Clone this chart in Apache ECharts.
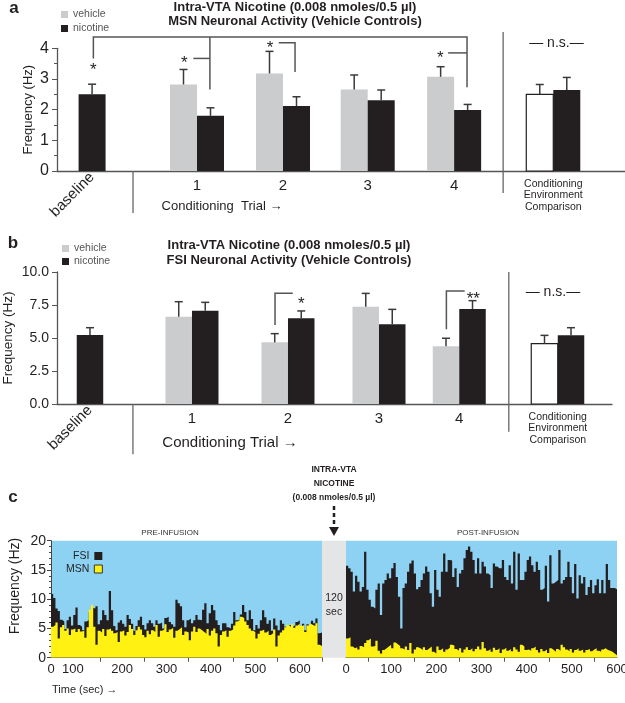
<!DOCTYPE html>
<html><head><meta charset="utf-8">
<script src="https://cdn.jsdelivr.net/npm/echarts@6.0.0/dist/echarts.min.js"></script>
<style>html,body{margin:0;padding:0;background:#fff;}#chart{width:625px;height:703px;}</style>
</head><body><div id="chart"></div>
<script>
// ---------- DATA ----------
const groupLabels = ['baseline', '1', '2', '3', '4', 'Conditioning Environment Comparison'];
// Panel a: MSN neuronal activity (Hz), mean and SEM
const msnVehicle    = [null, 2.82, 3.18, 2.66, 3.07, 2.50];
const msnVehicleSem = [null, 0.49, 0.72, 0.47, 0.33, 0.32];
const msnNicotine    = [2.50, 1.80, 2.12, 2.31, 1.99, 2.64];
const msnNicotineSem = [0.33, 0.26, 0.30, 0.33, 0.18, 0.41];
// Panel b: FSI neuronal activity (Hz), mean and SEM
const fsiVehicle    = [null, 6.61, 4.67, 7.37, 4.37, 4.57];
const fsiVehicleSem = [null, 1.14, 0.66, 1.01, 0.61, 0.63];
const fsiNicotine    = [5.23, 7.07, 6.49, 6.04, 7.20, 5.20];
const fsiNicotineSem = [0.55, 0.63, 0.56, 1.13, 0.63, 0.58];
const yTicksA = [0, 1, 2, 3, 4];
const yTicksB = [0, 2.5, 5, 7.5, 10];

// Panel c: 5-s bin firing rate histograms (Hz)
const binSec = 5;
const preStartSec = 40;
const postStartSec = 0;
const preFSI = [
 10.9,10.2,8.4,8.0,6.5,6.2,4.9,6.4,7.0,5.5,
 7.3,8.6,5.6,5.3,4.7,6.2,6.4,7.8,8.5,8.4,
 8.8,5.7,6.4,8.1,7.3,6.4,11.4,8.1,5.4,4.7,
 6.0,6.4,5.8,5.3,7.3,6.6,5.8,4.6,5.4,6.4,
 7.0,5.6,4.8,5.9,6.4,5.9,5.3,6.4,5.8,6.0,
 5.0,6.8,7.0,6.1,5.7,5.3,9.9,9.3,8.8,6.4,
 5.2,6.4,6.7,5.9,6.4,7.3,6.5,6.4,8.2,9.3,
 5.9,7.6,9.0,8.1,6.4,5.6,4.7,5.9,5.9,5.2,
 5.0,5.8,7.8,6.4,6.4,7.4,9.0,7.8,6.4,8.1,
 6.6,4.7,5.6,5.0,6.4,8.1,6.9,5.8,6.4,4.6,
 6.7,5.5,4.7,6.4,5.8,5.3,4.7,5.6,5.3,5.6,
 6.1,6.4,5.1,5.8,4.7,5.7,5.3,6.3,5.9,6.7,
 4.2,4.3];
const preMSN = [
 5.3,5.6,6.0,3.3,5.2,5.6,4.6,5.0,3.9,4.8,
 5.0,4.4,4.9,4.5,4.6,3.4,5.2,8.2,9.0,5.3,
 2.2,4.6,4.3,4.9,3.7,4.8,5.0,4.6,4.2,4.4,
 2.7,4.5,4.7,3.8,4.4,5.6,4.9,3.9,4.7,5.3,
 4.8,3.9,3.5,4.6,4.0,4.7,4.4,5.6,3.6,4.6,
 4.8,5.7,4.4,4.8,5.1,3.4,4.6,4.9,5.2,3.9,
 4.5,4.3,3.0,4.5,5.3,4.4,5.0,4.7,4.4,4.1,
 4.9,3.8,4.6,5.0,4.2,1.9,3.9,4.5,4.7,3.6,
 4.6,4.8,5.5,6.2,6.4,7.0,6.8,6.2,5.6,5.0,
 4.6,4.4,3.3,4.1,4.6,4.8,4.3,4.6,3.9,4.2,
 4.8,1.9,3.8,4.3,4.7,5.2,5.6,5.3,5.7,5.1,
 5.5,5.8,5.4,5.6,4.4,5.5,5.8,5.6,5.4,5.9,
 2.2,2.0];
const postFSI = [
 15.7,15.3,14.7,11.3,14.0,13.0,11.3,12.1,18.1,11.6,
 9.9,8.7,8.4,11.6,12.7,7.3,12.7,13.3,14.4,13.6,
 15.3,16.2,13.8,10.4,5.0,11.9,12.7,14.7,16.1,16.6,
 14.4,11.7,12.1,13.3,14.4,15.6,14.7,11.0,8.7,15.0,
 11.6,10.4,14.7,17.8,14.7,16.7,16.6,13.8,15.3,12.1,
 14.4,15.0,17.0,18.4,19.0,18.1,16.7,14.4,17.0,14.4,
 16.4,15.6,14.4,14.1,11.9,16.1,15.6,15.3,15.3,16.7,
 13.8,13.3,15.8,12.7,18.1,11.6,17.8,13.3,13.3,14.7,
 16.7,17.3,15.8,14.7,16.4,15.0,11.6,11.9,15.7,9.6,
 17.5,12.7,13.0,13.3,18.4,12.7,13.3,13.8,16.4,13.8,
 11.0,16.0,10.1,14.1,12.7,13.8,10.7,12.1,13.3,11.0,
 12.4,13.4,11.0,13.3,11.0,16.0,13.3,11.9,11.9,11.7];
const postMSN = [
 3.3,3.5,1.9,1.6,1.8,1.4,2.0,1.8,2.5,3.0,
 3.3,1.9,2.0,2.9,1.2,0.7,1.3,1.6,1.9,2.2,
 1.6,2.6,2.3,2.0,1.6,1.4,1.9,1.3,2.5,0.7,
 1.4,1.8,1.6,1.3,1.8,1.3,1.6,1.9,1.0,0.7,
 1.9,1.3,1.6,1.0,1.4,1.7,2.2,2.1,1.5,1.2,
 1.6,0.9,1.4,1.8,1.3,1.6,1.1,1.5,1.9,1.4,
 2.7,1.6,1.2,1.5,1.0,1.7,1.3,1.6,0.8,1.4,
 1.7,1.2,1.5,1.1,1.8,1.4,1.0,2.2,1.9,1.3,
 1.4,1.2,1.6,1.9,1.3,0.9,1.5,1.1,1.4,0.8,
 1.6,1.3,1.0,1.5,1.2,2.2,1.8,1.4,1.1,1.5,
 0.9,1.3,1.6,1.2,1.4,0.9,1.3,1.5,1.1,1.4,
 1.6,1.2,1.0,1.4,1.6,1.3,1.2,1.0,0.7,0.4];
const preTickLabelValues = [40, 89, 200, 300, 400, 500, 600];
const preTickLabels = ['0', '100', '200', '300', '400', '500', '600'];
const preTickMarks = [150, 250, 350, 450, 550, 650];
const postTickLabelValues = [0, 100, 200, 300, 400, 500, 600];
const postTickMarks = [50, 150, 250, 350, 450, 550];
const yTicksC = [0, 5, 10, 15, 20];

// ---------- LAYOUT / STYLE ----------
const FONT = '"Liberation Sans Narrow","Liberation Sans",Arial,sans-serif';
const INK = '#231F20', AX = '#555', VEH = '#CBCCCE', SKY = '#8DD2F2', YEL = '#FFF212', GAPC = '#E4E5E6';
const layoutA = { pos: [-0.22, 1, 2, 2.985, 3.99, 5.143], min: -0.628, max: 5.977, barPx: 27, hollow: 5 };
const layoutB = { pos: [-0.0625, 1, 2, 2.948, 3.784, 4.81], min: -0.406, max: 5.375, barPx: 26.5, hollow: 5 };
// significance annotations (x in group units, y in Hz)
const bracketsA = [
  [[-0.205, 3.67], [-0.205, 4.37], [4.14, 4.37], [4.14, 2.73]],
  [[1.15, 4.37], [1.15, 2.66]],
  [[0.957, 3.67], [1.15, 3.67]],
  [[1.95, 4.18], [2.14, 4.18], [2.14, 3.23]],
  [[3.92, 3.85], [4.14, 3.85]]
];
const marksA = [['*', -0.205, 3.42], ['*', 0.853, 3.64], ['*', 1.85, 4.13], ['*', 3.83, 3.81], ['— n.s.—', 5.18, 4.16]];
const separatorsA = [[[0.256, 0], [0.256, -1.37]], [[4.56, 4.53], [4.56, -0.72]]];
const bracketsB = [
  [[1.865, 5.98], [1.865, 8.39], [2.05, 8.39]],
  [[3.65, 5.66], [3.65, 8.56], [3.84, 8.56]]
];
const marksB = [['*', 2.14, 7.83], ['**', 3.93, 8.26], ['— n.s.—', 4.76, 8.5]];
const separatorsB = [[[0.385, 0], [0.385, -3.8]], [[4.30, 10.0], [4.30, -2.1]]];

// ---------- BUILDERS ----------
function barSeries(name, xi, yi, layout, vals, other, side, color) {
  const data = [];
  vals.forEach((v, i) => { if (v != null) data.push([layout.pos[i], v, i]); });
  return {
    type: 'custom', name, xAxisIndex: xi, yAxisIndex: yi, silent: true, z: 3,
    itemStyle: { color }, data, encode: { x: 0, y: 1 },
    renderItem(params, api) {
      const p = api.value(0), v = api.value(1), i = api.value(2);
      const b = api.coord([p, 0]), t = api.coord([p, v]);
      const w = layout.barPx;
      const single = other[i] == null;
      const x0 = single ? b[0] - w / 2 : (side < 0 ? b[0] - w : b[0]);
      const hollow = side < 0 && i === layout.hollow;
      return { type: 'rect', shape: { x: x0, y: t[1], width: w, height: b[1] - t[1] },
        style: { fill: hollow ? '#fff' : color, stroke: hollow ? INK : null, lineWidth: hollow ? 1.2 : 0 } };
    }
  };
}
function errSeries(xi, yi, layout, vals, sems, other, side) {
  const data = [];
  vals.forEach((v, i) => { if (v != null) data.push([layout.pos[i], v, sems[i], i]); });
  return {
    type: 'custom', xAxisIndex: xi, yAxisIndex: yi, silent: true, z: 4, data, encode: { x: 0, y: 1 },
    renderItem(params, api) {
      const p = api.value(0), v = api.value(1), s = api.value(2), i = api.value(3);
      const t = api.coord([p, v]), e = api.coord([p, v + s]);
      const w = layout.barPx;
      const single = other[i] == null;
      const cx = single ? t[0] : (side < 0 ? t[0] - w / 2 : t[0] + w / 2);
      const st = { stroke: '#3a3a3a', lineWidth: 1.5 };
      return { type: 'group', children: [
        { type: 'line', shape: { x1: cx, y1: t[1], x2: cx, y2: e[1] }, style: st },
        { type: 'line', shape: { x1: cx - 4, y1: e[1], x2: cx + 4, y2: e[1] }, style: st }
      ] };
    }
  };
}
function lineSeries(xi, yi, polys, color, width) {
  return {
    type: 'custom', xAxisIndex: xi, yAxisIndex: yi, silent: true, clip: false, z: 5,
    data: polys.map((pl, k) => [pl[0][0], pl[0][1], k]), encode: { x: 0, y: 1 },
    renderItem(params, api) {
      const pts = polys[api.value(2)].map(pt => api.coord(pt));
      return { type: 'polyline', shape: { points: pts }, style: { stroke: color, lineWidth: width, fill: null } };
    }
  };
}
function markSeries(xi, yi, marks) {
  return {
    type: 'custom', xAxisIndex: xi, yAxisIndex: yi, silent: true, clip: false, z: 6,
    data: marks.map((m, k) => [m[1], m[2], k]), encode: { x: 0, y: 1 },
    renderItem(params, api) {
      const m = marks[api.value(2)];
      const c = api.coord([m[1], m[2]]);
      const star = m[0].indexOf('*') === 0;
      return { type: 'text', x: c[0], y: c[1] + (star ? 4 : 0),
        style: { text: m[0], fill: INK, fontSize: star ? 17 : 14, fontFamily: FONT,
          align: 'center', verticalAlign: 'middle', textAlign: 'center', textVerticalAlign: 'middle' } };
    }
  };
}
function stepData(start, vals) {
  const d = vals.map((v, i) => [start + i * binSec, v]);
  d.push([start + vals.length * binSec, vals[vals.length - 1]]);
  return d;
}
function histSeries(name, xi, yi, start, vals, color, z) {
  return { type: 'line', name, xAxisIndex: xi, yAxisIndex: yi, data: stepData(start, vals), step: 'end',
    symbol: 'none', showSymbol: false, silent: true, z, color, itemStyle: { color },
    lineStyle: { width: 0, color }, areaStyle: { color, opacity: 1 } };
}
function groupFormatter(layout) {
  return v => {
    const i = layout.pos.findIndex(p => Math.abs(p - v) < 1e-6);
    if (i === 5) return groupLabels[5].split(' ').map(s => '{s|' + s + '}').join('\n');
    return i >= 0 ? groupLabels[i] : '';
  };
}
const txt = (text, x, y, size, opts = {}) => ({
  type: 'text', x, y, rotation: opts.rotation || 0, silent: true,
  style: { text, fill: opts.fill || INK, fontSize: size, fontFamily: FONT, fontWeight: opts.bold ? 'bold' : 'normal',
    align: opts.align || 'center', verticalAlign: 'middle', textAlign: opts.align || 'center', textVerticalAlign: 'middle' }
});

const labelStyle = (size) => ({ color: INK, fontSize: size, fontFamily: FONT });
const rich = { s: { fontSize: 10.5, lineHeight: 11.5, fontFamily: FONT, color: INK } };
const noZero = { onZero: false };

const option = {
  animation: false,
  backgroundColor: '#fff',
  textStyle: { fontFamily: FONT },
  grid: [
    { left: 57, top: 48.3, width: 568, height: 122.7, outerBoundsMode: 'none' },
    { left: 57, top: 272, width: 555, height: 132, outerBoundsMode: 'none' },
    { left: 51, top: 540.7, width: 271, height: 117, show: true, backgroundColor: SKY, borderWidth: 0, outerBoundsMode: 'none' },
    { left: 322, top: 540.7, width: 24, height: 117, show: true, backgroundColor: GAPC, borderWidth: 0, outerBoundsMode: 'none' },
    { left: 346, top: 540.7, width: 271, height: 117, show: true, backgroundColor: SKY, borderWidth: 0, outerBoundsMode: 'none' }
  ],
  xAxis: [
    { gridIndex: 0, type: 'value', position: 'bottom', min: layoutA.min, max: layoutA.max, splitLine: { show: false },
      axisLine: { show: true, ...noZero, lineStyle: { color: AX, width: 1.3 } }, axisTick: { show: false },
      axisLabel: { customValues: layoutA.pos.slice(1), formatter: groupFormatter(layoutA), margin: 7, ...labelStyle(15), rich } },
    { gridIndex: 0, type: 'value', position: 'bottom', min: layoutA.min, max: layoutA.max, splitLine: { show: false },
      axisLine: { show: false, ...noZero }, axisTick: { show: false },
      axisLabel: { customValues: [layoutA.pos[0]], formatter: groupFormatter(layoutA), rotate: 45, margin: 4, ...labelStyle(15) } },
    { gridIndex: 1, type: 'value', position: 'bottom', min: layoutB.min, max: layoutB.max, splitLine: { show: false },
      axisLine: { show: true, ...noZero, lineStyle: { color: AX, width: 1.3 } }, axisTick: { show: false },
      axisLabel: { customValues: layoutB.pos.slice(1), formatter: groupFormatter(layoutB), margin: 7, ...labelStyle(15), rich } },
    { gridIndex: 1, type: 'value', position: 'bottom', min: layoutB.min, max: layoutB.max, splitLine: { show: false },
      axisLine: { show: false, ...noZero }, axisTick: { show: false },
      axisLabel: { customValues: [layoutB.pos[0]], formatter: groupFormatter(layoutB), rotate: 45, margin: 4, ...labelStyle(15) } },
    { gridIndex: 2, type: 'value', position: 'bottom', min: preStartSec, max: 650, splitLine: { show: false },
      axisLine: { show: true, ...noZero, lineStyle: { color: '#666', width: 1 } },
      axisTick: { show: true, customValues: preTickMarks, length: 4, lineStyle: { color: '#555' } },
      axisLabel: { customValues: preTickLabelValues, formatter: v => preTickLabels[preTickLabelValues.indexOf(v)], margin: 5, ...labelStyle(13) } },
    { gridIndex: 3, type: 'value', min: 0, max: 1, show: false },
    { gridIndex: 4, type: 'value', position: 'bottom', min: postStartSec, max: 600, splitLine: { show: false },
      axisLine: { show: true, ...noZero, lineStyle: { color: '#666', width: 1 } },
      axisTick: { show: true, customValues: postTickMarks, length: 4, lineStyle: { color: '#555' } },
      axisLabel: { customValues: postTickLabelValues, margin: 5, ...labelStyle(13) } }
  ],
  yAxis: [
    { gridIndex: 0, type: 'value', min: 0, max: 4, interval: 1, splitLine: { show: false },
      axisLine: { show: true, ...noZero, lineStyle: { color: AX, width: 1.3 } },
      axisTick: { show: true, length: 5, lineStyle: { color: AX } },
      minorTick: { show: true, splitNumber: 2, length: 3, lineStyle: { color: AX } },
      axisLabel: { customValues: yTicksA, margin: 8, ...labelStyle(16) },
      name: 'Frequency (Hz)', nameLocation: 'middle', nameGap: 22, nameMoveOverlap: false, nameTextStyle: { ...labelStyle(13) } },
    { gridIndex: 1, type: 'value', min: 0, max: 10, interval: 2.5, splitLine: { show: false },
      axisLine: { show: true, ...noZero, lineStyle: { color: AX, width: 1.3 } },
      axisTick: { show: true, length: 5, lineStyle: { color: AX } },
      axisLabel: { customValues: yTicksB, formatter: v => v.toFixed(1), margin: 8, ...labelStyle(14) },
      name: 'Frequency (Hz)', nameLocation: 'middle', nameGap: 42, nameMoveOverlap: false, nameTextStyle: { ...labelStyle(13.5) } },
    { gridIndex: 2, type: 'value', min: 0, max: 20, interval: 5, splitLine: { show: false },
      axisLine: { show: true, ...noZero, lineStyle: { color: '#444', width: 1 } },
      axisTick: { show: true, length: 4, lineStyle: { color: '#444' } },
      minorTick: { show: true, splitNumber: 5, length: 2, lineStyle: { color: '#444' } },
      axisLabel: { customValues: yTicksC, margin: 5, ...labelStyle(14) } },
    { gridIndex: 3, type: 'value', min: 0, max: 20, show: false },
    { gridIndex: 4, type: 'value', min: 0, max: 20, show: false }
  ],
  legend: [
    { data: ['vehicle', 'nicotine'], orient: 'vertical', left: 56, top: 3, icon: 'rect', itemWidth: 7, itemHeight: 7,
      itemGap: 1, selectedMode: false, textStyle: { color: '#555', fontSize: 10.5, lineHeight: 13, fontFamily: FONT } },
    { data: ['vehicle', 'nicotine'], orient: 'vertical', left: 57, top: 237, icon: 'rect', itemWidth: 7, itemHeight: 7,
      itemGap: 0, selectedMode: false, textStyle: { color: '#555', fontSize: 10.5, lineHeight: 13, fontFamily: FONT } },
    { data: [{ name: 'FSI' }, { name: 'MSN', itemStyle: { borderColor: '#333', borderWidth: 1 } }], orient: 'vertical',
      left: 61, top: 545, icon: 'rect', itemWidth: 8, itemHeight: 8, itemGap: 1, align: 'right', selectedMode: false,
      textStyle: { color: INK, fontSize: 10.5, lineHeight: 12, width: 19, fontFamily: FONT } }
  ],
  series: [
    barSeries('vehicle', 0, 0, layoutA, msnVehicle, msnNicotine, -1, VEH),
    barSeries('nicotine', 0, 0, layoutA, msnNicotine, msnVehicle, 1, INK),
    errSeries(0, 0, layoutA, msnVehicle, msnVehicleSem, msnNicotine, -1),
    errSeries(0, 0, layoutA, msnNicotine, msnNicotineSem, msnVehicle, 1),
    lineSeries(0, 0, bracketsA, '#555', 1.5),
    lineSeries(0, 0, separatorsA, '#666', 1.3),
    markSeries(0, 0, marksA),
    barSeries('vehicle', 2, 1, layoutB, fsiVehicle, fsiNicotine, -1, VEH),
    barSeries('nicotine', 2, 1, layoutB, fsiNicotine, fsiVehicle, 1, INK),
    errSeries(2, 1, layoutB, fsiVehicle, fsiVehicleSem, fsiNicotine, -1),
    errSeries(2, 1, layoutB, fsiNicotine, fsiNicotineSem, fsiVehicle, 1),
    lineSeries(2, 1, bracketsB, '#555', 1.5),
    lineSeries(2, 1, separatorsB, '#666', 1.3),
    markSeries(2, 1, marksB),
    histSeries('FSI', 4, 2, preStartSec, preFSI, INK, 2),
    histSeries('MSN', 4, 2, preStartSec, preMSN, YEL, 3),
    histSeries('FSI', 6, 4, postStartSec, postFSI, INK, 2),
    histSeries('MSN', 6, 4, postStartSec, postMSN, YEL, 3)
  ],
  graphic: [
    txt('a', 14, 8, 17, { bold: true }),
    txt('Intra-VTA Nicotine (0.008 nmoles/0.5 µl)', 295, 7, 13, { bold: true }),
    txt('MSN Neuronal Activity (Vehicle Controls)', 295, 21, 13, { bold: true }),
    txt('Conditioning  Trial →', 222, 206, 13),
    txt('b', 13, 243, 17, { bold: true }),
    txt('Intra-VTA Nicotine (0.008 nmoles/0.5 µl)', 289, 245, 13, { bold: true }),
    txt('FSI Neuronal Activity (Vehicle Controls)', 289, 260, 13, { bold: true }),
    txt('Conditioning Trial →', 230, 443, 15),
    txt('c', 13, 497, 17, { bold: true }),
    txt('INTRA-VTA', 334, 470, 8.5, { bold: true }),
    txt('NICOTINE', 334, 484, 8.5, { bold: true }),
    txt('(0.008 nmoles/0.5 µl)', 334, 498, 8.5, { bold: true }),
    { type: 'line', silent: true, shape: { x1: 334, y1: 506, x2: 334, y2: 528 }, style: { stroke: INK, lineWidth: 2.5, lineDash: [4, 3] } },
    { type: 'polygon', silent: true, shape: { points: [[329, 527], [339, 527], [334, 536]] }, style: { fill: INK } },
    txt('PRE-INFUSION', 170, 533, 8, { fill: '#333' }),
    txt('POST-INFUSION', 488, 533, 8, { fill: '#333' }),
    txt('120', 334, 598, 10.5),
    txt('sec', 334, 612, 10.5),
    txt('Frequency (Hz)', 15, 586, 14, { rotation: Math.PI / 2 }),
    txt('Time (sec) →', 52, 690, 11, { align: 'left' })
  ]
};
const chart = echarts.init(document.getElementById('chart'), null, { renderer: 'canvas' });
chart.setOption(option);
</script></body></html>
